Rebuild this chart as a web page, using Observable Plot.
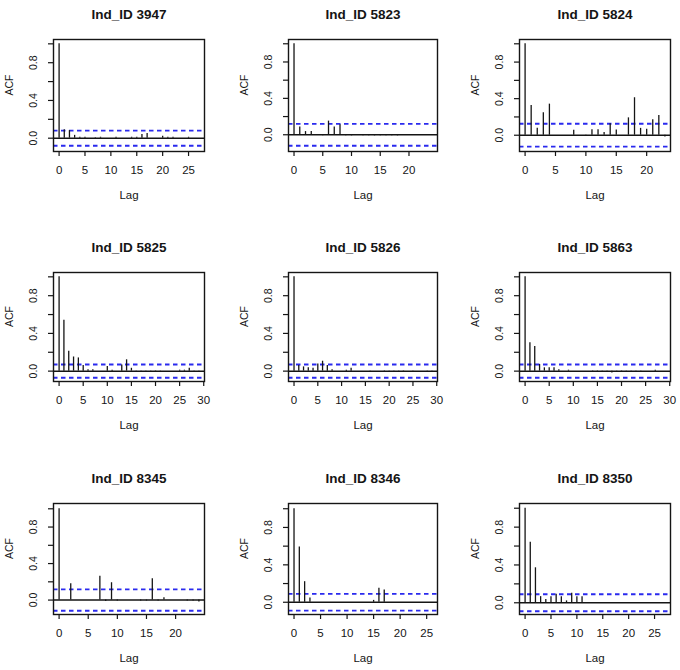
<!DOCTYPE html>
<html><head><meta charset="utf-8">
<script src="https://cdn.jsdelivr.net/npm/d3@7"></script>
<script src="https://cdn.jsdelivr.net/npm/@observablehq/plot@0.6"></script>
<style>
html,body{margin:0;padding:0;background:#fff;}
#wrap{position:relative;width:680px;height:670px;overflow:hidden;background:#fff;}
#wrap svg{position:absolute;overflow:visible;}
</style></head><body><div id="wrap"></div>
<script>
// ---- data ----
const ids = ["3947", "5823", "5824", "5825", "5826", "5863", "8345", "8346", "8350"];
const acf3947 = [1, 0.09, 0.08, 0.03, 0.01, 0.01, 0.0, 0.005, 0.01, 0.0, 0.0, 0.01, 0.0, 0.0, 0.01, 0.01, 0.04, 0.05, 0.0, 0.0, 0.02, 0.01, 0.01, 0.0, 0.0, 0.01, 0.0, 0.0];
const acf5823 = [1, 0.085, 0.035, 0.035, 0.0, -0.012, 0.15, 0.085, 0.11, -0.012, -0.012, 0.0, -0.012, -0.012, -0.012, -0.012, -0.012, -0.012, -0.012, 0.0, 0.0, 0.0, 0.0, 0.0, 0.0];
const acf5824 = [1, 0.325, 0.075, 0.245, 0.34, 0.0, 0.0, 0.0, 0.055, 0.0, -0.012, 0.06, 0.06, 0.03, 0.125, 0.058, 0.0, 0.19, 0.41, 0.075, 0.065, 0.17, 0.215, -0.02];
const acf5825 = [1, 0.54, 0.21, 0.15, 0.14, 0.06, 0.015, 0.015, 0.0, 0.0, 0.05, 0.01, 0.0, 0.065, 0.12, 0.03, -0.01, -0.01, -0.01, -0.01, -0.01, -0.01, 0.0, 0.0, 0.0, 0.01, 0.01, 0.03, -0.01, -0.01];
const acf5826 = [1, 0.06, 0.045, 0.035, 0.03, 0.075, 0.105, 0.06, 0.015, 0.0, 0.0, 0.01, 0.03, 0.0, 0.0, 0.0, -0.01, 0.0, 0.0, -0.01, -0.01, -0.01, -0.01, -0.01, 0.0, -0.01, 0.0, 0.0, -0.015, -0.015];
const acf5863 = [1, 0.30, 0.26, 0.07, 0.035, 0.035, 0.035, 0.015, 0.0, 0.01, 0.0, 0.0, 0.0, 0.0, -0.01, -0.01, -0.01, -0.01, -0.02, -0.01, -0.01, -0.01, -0.01, -0.01, -0.01, 0.0, 0.0, 0.01, 0.0, 0.0];
const acf8345 = [1, 0.0, 0.18, 0.0, 0.0, 0.0, 0.0, 0.26, -0.015, 0.19, -0.01, 0.0, 0.0, 0.0, -0.01, -0.01, 0.235, -0.01, 0.025, 0.0, 0.0, 0.0, -0.01, -0.01, -0.02];
const acf8346 = [1, 0.59, 0.22, 0.045, 0.0, 0.0, 0.0, 0.0, 0.0, 0.0, 0.0, 0.0, 0.0, 0.0, 0.0, 0.02, 0.15, 0.13, 0.0, 0.0, 0.0, 0.0, 0.0, 0.0, 0.0, 0.0, 0.0];
const acf8350 = [1, 0.64, 0.37, 0.065, 0.035, 0.065, 0.09, 0.065, 0.02, 0.10, 0.065, 0.065, 0.0, 0.0, 0.0, 0.0, 0.0, 0.0, 0.0, 0.0, 0.0, 0.0, 0.0, 0.0, 0.0, 0.0, 0.0, 0.0];
const acfs = [acf3947, acf5823, acf5824, acf5825, acf5826, acf5863, acf8345, acf8346, acf8350];
const ciBounds = [0.08, 0.12, 0.125, 0.07, 0.07, 0.07, 0.117, 0.09, 0.09];
const yLows = [-0.141, -0.184, -0.178, -0.11, -0.11, -0.11, -0.158, -0.131, -0.124];
const yHighs = [1.046, 1.047, 1.047, 1.046, 1.046, 1.046, 1.058, 1.056, 1.05];
const xTicks25 = [0, 5, 10, 15, 20, 25];
const xTicks20 = [0, 5, 10, 15, 20];
const xTicks30 = [0, 5, 10, 15, 20, 25, 30];
const xTickSets = [xTicks25, xTicks20, xTicks20, xTicks30, xTicks30, xTicks30, xTicks20, xTicks25, xTicks25];
const yTicks = [0, 0.2, 0.4, 0.6, 0.8, 1.0];
const yTickLabels = [0, 0.4, 0.8];

// ---- layout ----
const colLeft = [53, 288, 519], colRight = [204, 437, 670];
const rowTop = [39, 272, 503], rowBottom = [151, 381, 614];
const mL = 53, mR = 8, mT = 39, mB = 56;
const ink = "#151515";
const ciColor = "#2a2aee";
const font = "'Liberation Sans', Arial, Helvetica, sans-serif";
const wrap = document.getElementById("wrap");

ids.forEach((id, i) => {
  const row = Math.floor(i / 3), col = i % 3;
  const acf = acfs[i];
  const L = acf.length - 1;
  const data = acf.map((v, k) => ({lag: k, acf: v}));
  const ci = ciBounds[i];
  const w = colRight[col] - colLeft[col], h = rowBottom[row] - rowTop[row];
  const svg = Plot.plot({
    width: w + mL + mR, height: h + mT + mB,
    marginLeft: mL, marginRight: mR, marginTop: mT, marginBottom: mB,
    style: {fontFamily: font, color: ink, background: "transparent", overflow: "visible"},
    x: {domain: [-0.04 * L, 1.04 * L]},
    y: {domain: [yLows[i], yHighs[i]]},
    marks: [
      Plot.ruleY([ci, -ci], {stroke: ciColor, strokeWidth: 1.9, strokeDasharray: "4.5,3.5"}),
      Plot.ruleY([0], {stroke: ink, strokeWidth: 1.5}),
      Plot.ruleX(data, {x: "lag", y1: 0, y2: "acf", stroke: ink, strokeWidth: 1.3}),
      Plot.frame({stroke: ink, strokeWidth: 1.4}),
      Plot.axisX({ticks: xTickSets[i], tickSize: 5, tickPadding: 9, fontSize: 11.5, strokeWidth: 1.2, label: null, tickFormat: d => String(d)}),
      Plot.axisY({ticks: yTicks, tickSize: 5, strokeWidth: 1.2, fill: "none", label: null}),
      Plot.text(yTickLabels, {y: d => d, frameAnchor: "left", text: d => d.toFixed(1), rotate: -90, dx: -20, fontSize: 10.5, textAnchor: "middle"}),
      Plot.text(["ACF"], {frameAnchor: "left", dx: -44, rotate: -90, fontSize: 10.5}),
      Plot.text(["Lag"], {frameAnchor: "bottom", dy: 47, fontSize: 11.5}),
      Plot.text(["Ind_ID " + id], {frameAnchor: "top", dy: -30, fontWeight: "bold", fontSize: 13.5})
    ]
  });
  svg.style.left = (colLeft[col] - mL) + "px";
  svg.style.top = (rowTop[row] - mT) + "px";
  wrap.appendChild(svg);
});
</script></body></html>
